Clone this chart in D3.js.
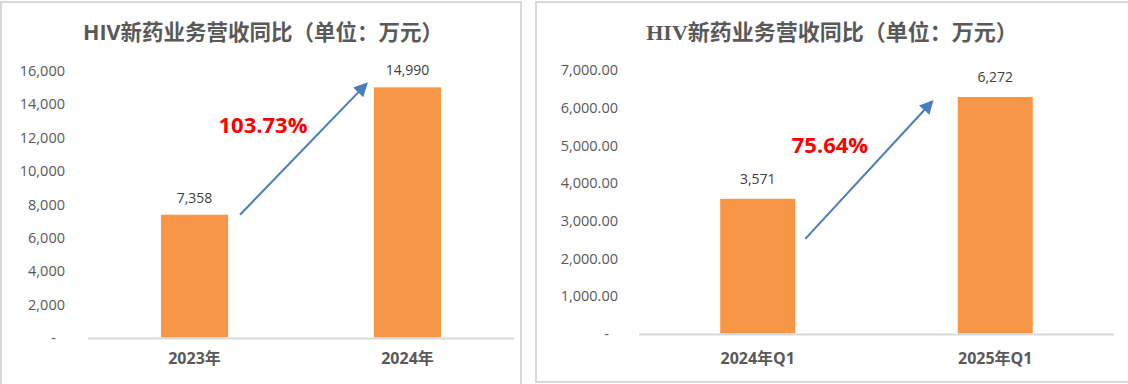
<!DOCTYPE html>
<html>
<head>
<meta charset="utf-8">
<script src="https://cdn.jsdelivr.net/npm/d3@7"></script>
<style>
  body { margin: 0; background: #fff; }
  svg { display: block; }
</style>
</head>
<body>
<svg id="chart" width="1128" height="384"></svg>
<script>
// Left chart: annual
const yearCats = ['2023年', '2024年'];
const yearValues = [7358, 14990];
const yearTicks = [0, 2000, 4000, 6000, 8000, 10000, 12000, 14000, 16000];
const yearGrowth = '103.73%';

// Right chart: Q1
const quarterCats = ['2024年Q1', '2025年Q1'];
const quarterValues = [3571, 6272];
const quarterTicks = [0, 1000, 2000, 3000, 4000, 5000, 6000, 7000];
const quarterGrowth = '75.64%';

const title = 'HIV新药业务营收同比（单位：万元）';

const svg = d3.select('#chart');
const gray = '#595959';
const sans = '"Open Sans", "Noto Sans CJK SC", sans-serif';
const serif = '"Liberation Serif", "Noto Sans CJK SC", serif';

// panel borders
svg.append('rect').attr('x', 1).attr('y', 2).attr('width', 520).attr('height', 390)
  .attr('fill', 'none').attr('stroke', '#d9d9d9').attr('stroke-width', 2);
svg.append('rect').attr('x', 536).attr('y', 2).attr('width', 600).attr('height', 380)
  .attr('fill', 'none').attr('stroke', '#d9d9d9').attr('stroke-width', 2);

const defs = svg.append('defs');
defs.append('marker').attr('id', 'arr')
  .attr('viewBox', '0 0 10 10').attr('refX', 8).attr('refY', 5)
  .attr('markerWidth', 7).attr('markerHeight', 7).attr('orient', 'auto')
  .append('path').attr('d', 'M0,0 L10,5 L0,10 z').attr('fill', '#4a7ebb');

function drawChart(opts) {
  const g = svg.append('g');
  const x = d3.scaleBand().domain(opts.cats).range([opts.x0, opts.x1])
    .paddingInner(opts.pad).paddingOuter(opts.pad / 2);
  const y = d3.scaleLinear().domain([0, d3.max(opts.ticks)]).range([opts.y0, opts.y1]);

  // title
  g.append('text').attr('x', opts.titleX).attr('y', 40)
    .attr('text-anchor', 'middle').attr('font-family', opts.titleFont)
    .attr('font-size', opts.titleSize).attr('font-weight', 700).attr('fill', gray)
    .text(title);

  // y axis labels
  const yAxis = g.append('g').attr('transform', `translate(${opts.labelX},0)`)
    .call(d3.axisLeft(y).tickValues(opts.ticks).tickSize(0).tickPadding(0)
      .tickFormat(d => d === 0 ? '-' : opts.fmt(d)));
  yAxis.select('.domain').remove();
  yAxis.selectAll('text').attr('fill', gray).attr('font-size', '14.5px')
    .attr('font-family', sans).attr('dy', '0.35em')
    .attr('dx', d => d === 0 ? -9 : 0);

  // bars
  g.selectAll('rect.bar').data(opts.values).join('rect')
    .attr('x', (d, i) => x(opts.cats[i]))
    .attr('y', d => y(d))
    .attr('width', x.bandwidth())
    .attr('height', d => y(0) - y(d))
    .attr('fill', '#f79646');

  // baseline
  g.append('line').attr('x1', opts.x0).attr('x2', opts.x1)
    .attr('y1', y(0) + 1).attr('y2', y(0) + 1)
    .attr('stroke', '#d9d9d9').attr('stroke-width', 2);

  // value labels
  g.selectAll('text.val').data(opts.values).join('text')
    .attr('x', (d, i) => x(opts.cats[i]) + x.bandwidth() / 2)
    .attr('y', d => y(d) - opts.valGap)
    .attr('text-anchor', 'middle').attr('font-family', sans)
    .attr('font-size', '14px').attr('fill', '#404040')
    .text(d => d3.format(',')(d));

  // category labels
  g.selectAll('text.cat').data(opts.cats).join('text')
    .attr('x', d => x(d) + x.bandwidth() / 2)
    .attr('y', 364)
    .attr('text-anchor', 'middle').attr('font-family', sans)
    .attr('font-size', '16px').attr('font-weight', 700).attr('fill', gray)
    .text(d => d);

  // growth arrow
  const a = opts.arrow;
  g.append('line')
    .attr('x1', x(opts.cats[0]) + x.bandwidth() + a.dx0)
    .attr('y1', y(opts.values[0]) + a.dy0)
    .attr('x2', x(opts.cats[1]) + a.dx1)
    .attr('y2', y(opts.values[1]) + a.dy1)
    .attr('stroke', '#4a7ebb').attr('stroke-width', 2)
    .attr('marker-end', 'url(#arr)');

  g.append('text').attr('x', opts.growthX).attr('y', opts.growthY)
    .attr('text-anchor', 'middle').attr('font-family', sans)
    .attr('font-size', '22px').attr('font-weight', 700).attr('fill', '#ff0000')
    .text(opts.growth);
}

drawChart({
  cats: yearCats, values: yearValues, ticks: yearTicks, growth: yearGrowth,
  x0: 88, x1: 514, y0: 337.5, y1: 70.5, pad: 0.685, labelX: 65,
  fmt: d3.format(','), titleX: 263, titleFont: sans, titleSize: '21.5px', valGap: 12,
  arrow: { dx0: 12, dy0: 0, dx1: -8, dy1: -3 },
  growthX: 263, growthY: 133
});

drawChart({
  cats: quarterCats, values: quarterValues, ticks: quarterTicks, growth: quarterGrowth,
  x0: 639, x1: 1114, y0: 333.5, y1: 69.5, pad: 0.684, labelX: 618,
  fmt: d3.format(',.2f'), titleX: 832, titleFont: serif, titleSize: '22px', valGap: 15,
  arrow: { dx0: 10, dy0: 40, dx1: -26, dy1: 5 },
  growthX: 830, growthY: 153
});
</script>
</body>
</html>
